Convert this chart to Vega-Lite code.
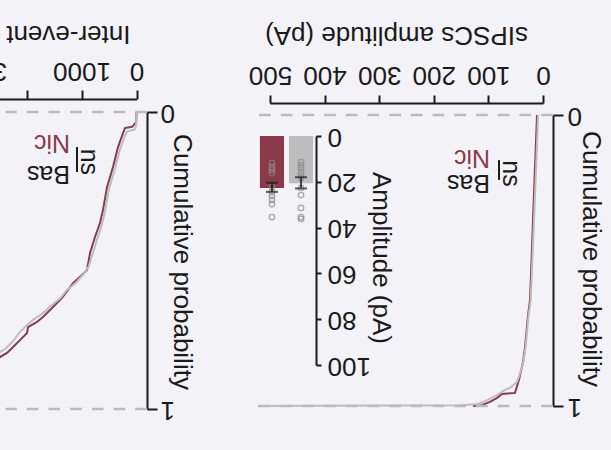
{
  "$schema": "https://vega.github.io/schema/vega-lite/v6.json",
  "width": 611,
  "height": 450,
  "autosize": {"type": "none"},
  "padding": 0,
  "background": "#f3f2f7",
  "config": {
    "view": {"stroke": null},
    "font": "Liberation Sans",
    "axis": {
      "grid": false,
      "domainColor": "#1a1a1a",
      "domainWidth": 2,
      "tickColor": "#1a1a1a",
      "tickWidth": 2,
      "labelColor": "#1a1a1a",
      "titleColor": "#1a1a1a",
      "labelFont": "Liberation Sans",
      "labelFontSize": 26,
      "titleFont": "Liberation Sans",
      "titleFontSize": 26,
      "titleFontWeight": "normal",
      "labelOverlap": false,
      "labelFlush": false
    }
  },
  "datasets": {
    "ampCdf": [
      {"group": "Nic", "amp": 11, "p": 0}, {"group": "Nic", "amp": 13, "p": 0.1}, {"group": "Nic", "amp": 15.5, "p": 0.22},
      {"group": "Nic", "amp": 18.3, "p": 0.36}, {"group": "Nic", "amp": 21, "p": 0.5}, {"group": "Nic", "amp": 23.8, "p": 0.636},
      {"group": "Nic", "amp": 27.5, "p": 0.69}, {"group": "Nic", "amp": 33, "p": 0.8}, {"group": "Nic", "amp": 36.6, "p": 0.85},
      {"group": "Nic", "amp": 44, "p": 0.91}, {"group": "Nic", "amp": 51.3, "p": 0.955}, {"group": "Nic", "amp": 75, "p": 0.959},
      {"group": "Nic", "amp": 84, "p": 0.972}, {"group": "Nic", "amp": 97, "p": 0.986}, {"group": "Nic", "amp": 112, "p": 0.997},
      {"group": "Nic", "amp": 128, "p": 1},
      {"group": "Bas", "amp": 9, "p": 0}, {"group": "Bas", "amp": 11, "p": 0.1}, {"group": "Bas", "amp": 13.5, "p": 0.22},
      {"group": "Bas", "amp": 16.5, "p": 0.36}, {"group": "Bas", "amp": 19.5, "p": 0.5}, {"group": "Bas", "amp": 22.5, "p": 0.636},
      {"group": "Bas", "amp": 26.5, "p": 0.69}, {"group": "Bas", "amp": 32, "p": 0.8}, {"group": "Bas", "amp": 36, "p": 0.85},
      {"group": "Bas", "amp": 42, "p": 0.887}, {"group": "Bas", "amp": 47.6, "p": 0.918}, {"group": "Bas", "amp": 60.4, "p": 0.938},
      {"group": "Bas", "amp": 69.6, "p": 0.945}, {"group": "Bas", "amp": 84, "p": 0.962}, {"group": "Bas", "amp": 100.7, "p": 0.979},
      {"group": "Bas", "amp": 119, "p": 0.993}, {"group": "Bas", "amp": 152, "p": 0.997}, {"group": "Bas", "amp": 522, "p": 1}
    ],
    "ieiCdf": [
      {"group": "Nic", "iei": 0, "p": 0}, {"group": "Nic", "iei": 5, "p": 0.034}, {"group": "Nic", "iei": 82, "p": 0.05},
      {"group": "Nic", "iei": 209, "p": 0.054}, {"group": "Nic", "iei": 245, "p": 0.071}, {"group": "Nic", "iei": 336, "p": 0.118},
      {"group": "Nic", "iei": 427, "p": 0.185}, {"group": "Nic", "iei": 536, "p": 0.253}, {"group": "Nic", "iei": 609, "p": 0.33},
      {"group": "Nic", "iei": 664, "p": 0.374}, {"group": "Nic", "iei": 755, "p": 0.421}, {"group": "Nic", "iei": 845, "p": 0.475},
      {"group": "Nic", "iei": 900, "p": 0.532}, {"group": "Nic", "iei": 991, "p": 0.549}, {"group": "Nic", "iei": 1154, "p": 0.576},
      {"group": "Nic", "iei": 1245, "p": 0.599}, {"group": "Nic", "iei": 1354, "p": 0.626}, {"group": "Nic", "iei": 1536, "p": 0.66},
      {"group": "Nic", "iei": 1700, "p": 0.69}, {"group": "Nic", "iei": 1809, "p": 0.707}, {"group": "Nic", "iei": 1972, "p": 0.724},
      {"group": "Nic", "iei": 1990, "p": 0.744}, {"group": "Nic", "iei": 2118, "p": 0.768}, {"group": "Nic", "iei": 2245, "p": 0.791},
      {"group": "Nic", "iei": 2354, "p": 0.811}, {"group": "Nic", "iei": 2482, "p": 0.825}, {"group": "Nic", "iei": 2700, "p": 0.85},
      {"group": "Nic", "iei": 3000, "p": 0.88}, {"group": "Nic", "iei": 4000, "p": 0.94}, {"group": "Nic", "iei": 6000, "p": 1},
      {"group": "Bas", "iei": 0, "p": 0}, {"group": "Bas", "iei": 5, "p": 0.045}, {"group": "Bas", "iei": 40, "p": 0.06},
      {"group": "Bas", "iei": 170, "p": 0.065}, {"group": "Bas", "iei": 210, "p": 0.08}, {"group": "Bas", "iei": 300, "p": 0.125},
      {"group": "Bas", "iei": 390, "p": 0.19}, {"group": "Bas", "iei": 500, "p": 0.26}, {"group": "Bas", "iei": 575, "p": 0.335},
      {"group": "Bas", "iei": 630, "p": 0.38}, {"group": "Bas", "iei": 720, "p": 0.43}, {"group": "Bas", "iei": 810, "p": 0.485},
      {"group": "Bas", "iei": 870, "p": 0.52}, {"group": "Bas", "iei": 960, "p": 0.545}, {"group": "Bas", "iei": 1100, "p": 0.575},
      {"group": "Bas", "iei": 1264, "p": 0.599}, {"group": "Bas", "iei": 1391, "p": 0.628}, {"group": "Bas", "iei": 1573, "p": 0.655},
      {"group": "Bas", "iei": 1718, "p": 0.68}, {"group": "Bas", "iei": 1882, "p": 0.7}, {"group": "Bas", "iei": 2000, "p": 0.72},
      {"group": "Bas", "iei": 2118, "p": 0.74}, {"group": "Bas", "iei": 2245, "p": 0.772}, {"group": "Bas", "iei": 2391, "p": 0.798},
      {"group": "Bas", "iei": 2482, "p": 0.808}, {"group": "Bas", "iei": 3000, "p": 0.86}, {"group": "Bas", "iei": 4000, "p": 0.93},
      {"group": "Bas", "iei": 6000, "p": 1}
    ],
    "cells": [
      {"group": "Nic", "amp": 11.8}, {"group": "Nic", "amp": 13.5}, {"group": "Nic", "amp": 14.8}, {"group": "Nic", "amp": 16.2},
      {"group": "Nic", "amp": 22.3}, {"group": "Nic", "amp": 24.5}, {"group": "Nic", "amp": 26.2}, {"group": "Nic", "amp": 27.9},
      {"group": "Nic", "amp": 29.7}, {"group": "Nic", "amp": 35.4},
      {"group": "Bas", "amp": 11.4}, {"group": "Bas", "amp": 12.7}, {"group": "Bas", "amp": 14.0}, {"group": "Bas", "amp": 15.7},
      {"group": "Bas", "amp": 17.0}, {"group": "Bas", "amp": 18.3}, {"group": "Bas", "amp": 22.7}, {"group": "Bas", "amp": 25.8},
      {"group": "Bas", "amp": 31.4}, {"group": "Bas", "amp": 35.4}, {"group": "Bas", "amp": 36.2}
    ],
    "summary": [
      {"group": "Bas", "mean": 20.6, "lo": 18.0, "hi": 22.9},
      {"group": "Nic", "mean": 22.7, "lo": 20.4, "hi": 24.4}
    ],
    "refs": [{"p": 0}, {"p": 1}]
  },
  "layer": [
    {
      "layer": [
        {
          "data": {"name": "ampCdf"},
          "mark": {"type": "line", "strokeWidth": 2},
          "encoding": {
            "x": {"field": "amp", "type": "quantitative", "scale": {"domain": [0, 500], "range": [543, 270], "nice": false, "zero": false},
              "axis": {"orient": "top", "offset": -103, "values": [0, 100, 200, 300, 400, 500], "format": "d", "tickSize": 8,
                "labelAngle": 180, "labelAlign": "center", "labelBaseline": "alphabetic", "labelPadding": 29,
                "title": "sIPSCs amplitude (pA)", "titleAngle": 180, "titleAlign": "center", "titleBaseline": "alphabetic", "titleX": 396, "titleY": -77}},
            "y": {"field": "p", "type": "quantitative", "scale": {"domain": [0, 1], "range": [115, 406], "nice": false, "zero": false},
              "axis": {"orient": "right", "offset": -58, "values": [0, 1], "format": "d", "tickSize": 10,
                "labelAngle": 180, "labelAlign": "right", "labelBaseline": "middle", "labelPadding": 4,
                "title": "Cumulative probability", "titleAngle": 90, "titleAlign": "center", "titleBaseline": "alphabetic", "titleX": 29.5, "titleY": 258.5}},
            "color": {"field": "group", "type": "nominal", "scale": {"domain": ["Bas", "Nic"], "range": ["#bdbdbd", "#8b3a4b"]}, "legend": null}
          }
        },
        {
          "data": {"name": "refs"},
          "mark": {"type": "rule", "color": "#bbbbbb", "strokeWidth": 2.5, "strokeDash": [11.7, 10]},
          "encoding": {
            "x": {"datum": -18, "type": "quantitative"},
            "x2": {"datum": 522},
            "y": {"field": "p", "type": "quantitative"}
          }
        },
        {
          "data": {"values": [{"label": "Nic"}]},
          "mark": {"type": "text", "angle": 180, "align": "left", "baseline": "alphabetic", "fontSize": 25, "color": "#8b3a4b"},
          "encoding": {
            "text": {"field": "label"},
            "x": {"datum": 97, "type": "quantitative"},
            "y": {"datum": 0.12, "type": "quantitative"}
          }
        },
        {
          "data": {"values": [{"label": "Bas"}]},
          "mark": {"type": "text", "angle": 180, "align": "left", "baseline": "alphabetic", "fontSize": 25, "color": "#1a1a1a"},
          "encoding": {
            "text": {"field": "label"},
            "x": {"datum": 97, "type": "quantitative"},
            "y": {"datum": 0.205, "type": "quantitative"}
          }
        },
        {
          "data": {"values": [{"label": "ns"}]},
          "mark": {"type": "text", "angle": 90, "align": "center", "baseline": "alphabetic", "fontSize": 25, "color": "#1a1a1a"},
          "encoding": {
            "text": {"field": "label"},
            "x": {"datum": 73.3, "type": "quantitative"},
            "y": {"datum": 0.201, "type": "quantitative"}
          }
        },
        {
          "data": {"values": [{"label": "ns"}]},
          "mark": {"type": "rule", "color": "#1a1a1a", "strokeWidth": 2},
          "encoding": {
            "x": {"datum": 80.6, "type": "quantitative"},
            "y": {"datum": 0.155, "type": "quantitative"},
            "y2": {"datum": 0.223}
          }
        }
      ]
    },
    {
      "layer": [
        {
          "data": {"name": "ieiCdf"},
          "mark": {"type": "line", "strokeWidth": 2},
          "encoding": {
            "x": {"field": "iei", "type": "quantitative", "scale": {"domain": [0, 3000], "range": [136.5, -28.5], "nice": false, "zero": false},
              "axis": {"orient": "top", "offset": -99, "values": [0, 1000, 2000, 3000], "format": "d",
                "labelExpr": "datum.value == 2000 ? '' : datum.label", "tickSize": 9,
                "labelOffset": {"condition": {"test": "datum.value == 3000", "value": 6}, "value": 0},
                "labelAngle": 180, "labelAlign": "center", "labelBaseline": "alphabetic", "labelPadding": 28,
                "title": "Inter-event interval (ms)", "titleAngle": 180, "titleAlign": "left", "titleBaseline": "alphabetic", "titleX": 130, "titleY": -74}},
            "y": {"field": "p", "type": "quantitative", "scale": {"domain": [0, 1], "range": [112, 409], "nice": false, "zero": false},
              "axis": {"orient": "right", "offset": -464, "values": [0, 1], "format": "d", "tickSize": 10,
                "labelAngle": 180, "labelAlign": "right", "labelBaseline": "middle", "labelPadding": 3,
                "title": "Cumulative probability", "titleAngle": 90, "titleAlign": "center", "titleBaseline": "alphabetic", "titleX": 26.5, "titleY": 261.5}},
            "color": {"field": "group", "type": "nominal", "scale": {"domain": ["Bas", "Nic"], "range": ["#bdbdbd", "#8b3a4b"]}, "legend": null}
          }
        },
        {
          "data": {"name": "refs"},
          "mark": {"type": "rule", "color": "#bbbbbb", "strokeWidth": 2.5, "strokeDash": [11.7, 10]},
          "encoding": {
            "x": {"datum": -190, "type": "quantitative"},
            "x2": {"datum": 2380},
            "y": {"field": "p", "type": "quantitative"}
          }
        },
        {
          "data": {"values": [{"label": "Nic"}]},
          "mark": {"type": "text", "angle": 180, "align": "left", "baseline": "alphabetic", "fontSize": 25, "color": "#8b3a4b"},
          "encoding": {
            "text": {"field": "label"},
            "x": {"datum": 1209, "type": "quantitative"},
            "y": {"datum": 0.077, "type": "quantitative"}
          }
        },
        {
          "data": {"values": [{"label": "Bas"}]},
          "mark": {"type": "text", "angle": 180, "align": "left", "baseline": "alphabetic", "fontSize": 25, "color": "#1a1a1a"},
          "encoding": {
            "text": {"field": "label"},
            "x": {"datum": 1209, "type": "quantitative"},
            "y": {"datum": 0.182, "type": "quantitative"}
          }
        },
        {
          "data": {"values": [{"label": "ns"}]},
          "mark": {"type": "text", "angle": 90, "align": "center", "baseline": "alphabetic", "fontSize": 25, "color": "#1a1a1a"},
          "encoding": {
            "text": {"field": "label"},
            "x": {"datum": 1009, "type": "quantitative"},
            "y": {"datum": 0.168, "type": "quantitative"}
          }
        },
        {
          "data": {"values": [{"label": "ns"}]},
          "mark": {"type": "rule", "color": "#1a1a1a", "strokeWidth": 2},
          "encoding": {
            "x": {"datum": 1082, "type": "quantitative"},
            "y": {"datum": 0.118, "type": "quantitative"},
            "y2": {"datum": 0.202}
          }
        }
      ]
    },
    {
      "layer": [
        {
          "data": {"name": "summary"},
          "mark": {"type": "bar"},
          "encoding": {
            "x": {"field": "group", "type": "nominal", "scale": {"domain": ["Bas", "Nic"], "range": [316, 257], "paddingInner": 0.17, "paddingOuter": 0.1}, "axis": null},
            "y": {"field": "mean", "type": "quantitative", "scale": {"domain": [0, 100], "range": [136, 365], "nice": false, "zero": false},
              "axis": {"orient": "right", "offset": -295, "values": [0, 20, 40, 60, 80, 100], "format": "d", "tickSize": 5,
                "labelAngle": 180, "labelAlign": "right", "labelBaseline": "middle", "labelPadding": 6,
                "title": "Amplitude (pA)", "titleAngle": 90, "titleAlign": "center", "titleBaseline": "alphabetic", "titleX": 56.5, "titleY": 257.5}},
            "color": {"field": "group", "type": "nominal", "scale": {"domain": ["Bas", "Nic"], "range": ["#bdbdbd", "#8b3a4b"]}, "legend": null}
          }
        },
        {
          "data": {"name": "cells"},
          "mark": {"type": "point", "shape": "circle", "filled": false, "size": 30, "strokeWidth": 1.3, "color": "#8a8a8a"},
          "encoding": {
            "x": {"field": "group", "type": "nominal", "axis": null},
            "y": {"field": "amp", "type": "quantitative"}
          }
        },
        {
          "data": {"name": "summary"},
          "mark": {"type": "rule", "color": "#1a1a1a", "strokeWidth": 1.5},
          "encoding": {
            "x": {"field": "group", "type": "nominal", "axis": null},
            "y": {"field": "lo", "type": "quantitative"},
            "y2": {"field": "hi"}
          }
        },
        {
          "data": {"name": "summary"},
          "mark": {"type": "tick", "color": "#1a1a1a", "size": 12, "thickness": 2},
          "encoding": {
            "x": {"field": "group", "type": "nominal", "axis": null},
            "y": {"field": "lo", "type": "quantitative"}
          }
        },
        {
          "data": {"name": "summary"},
          "mark": {"type": "tick", "color": "#1a1a1a", "size": 12, "thickness": 2},
          "encoding": {
            "x": {"field": "group", "type": "nominal", "axis": null},
            "y": {"field": "hi", "type": "quantitative"}
          }
        }
      ]
    }
  ],
  "resolve": {"scale": {"x": "independent", "y": "independent"}}
}
